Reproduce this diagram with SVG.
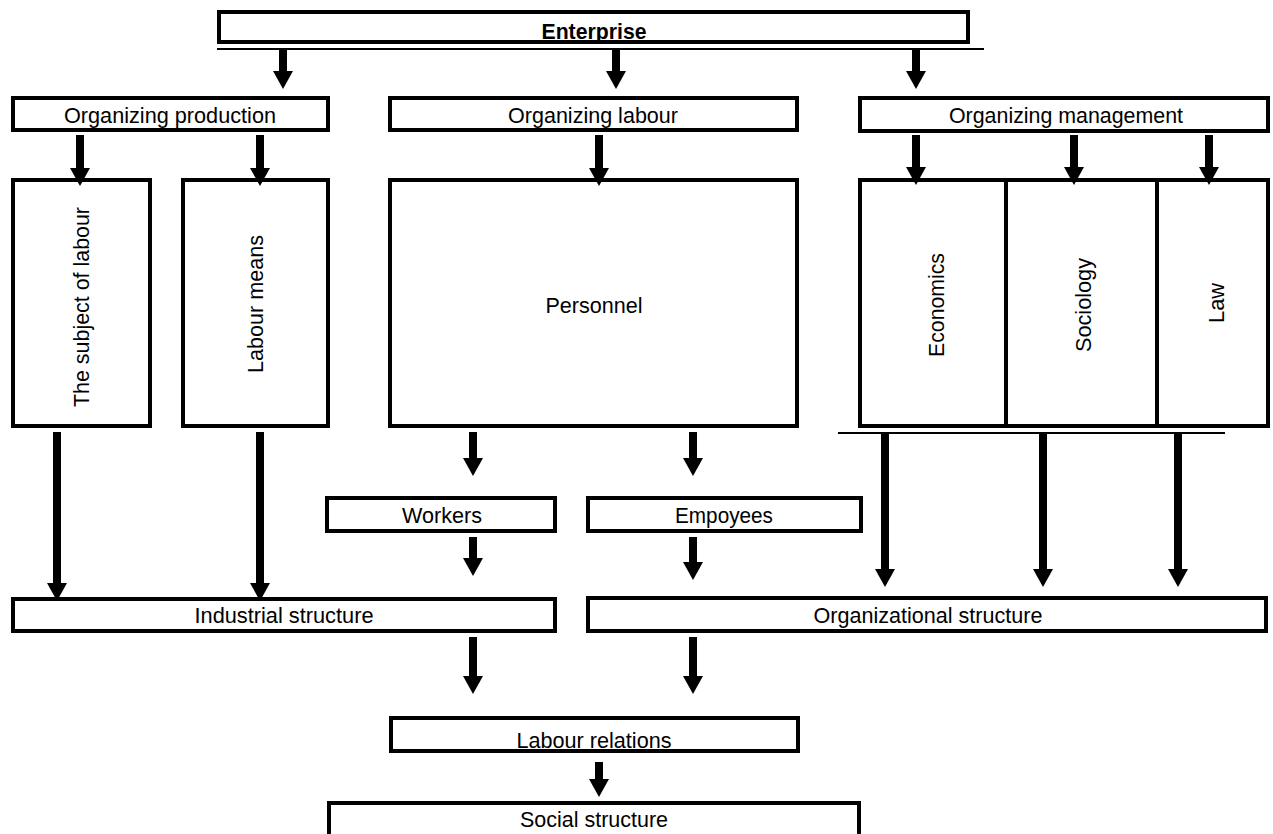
<svg xmlns="http://www.w3.org/2000/svg" width="1273" height="834" viewBox="0 0 1273 834">
<style>
.box{fill:#fff;stroke:#000;stroke-width:4}
.t{font-family:"Liberation Sans",Arial,sans-serif;font-size:22px;fill:#000;text-anchor:middle}
.b{font-weight:bold}
.ar{stroke:#000;stroke-width:8;fill:none;marker-end:url(#ah)}
.rule{stroke:#000;stroke-width:2}
</style>
<defs>
<marker id="ah" markerUnits="userSpaceOnUse" markerWidth="20" markerHeight="20" viewBox="0 0 18 20" refX="1" refY="10" orient="auto">
<path d="M0,0 L18,10 L0,20 z" fill="#000"/>
</marker>
</defs>
<rect width="1273" height="834" fill="#fff"/>

<g id="enterprise">
<rect class="box" x="219" y="12" width="749" height="30"/>
<line class="rule" x1="217" y1="49" x2="984" y2="49"/>
<text class="t b" x="594" y="39" textLength="105" lengthAdjust="spacingAndGlyphs">Enterprise</text>
</g>

<g id="org-production">
<rect class="box" x="13" y="98" width="315" height="32"/>
<text class="t" x="170" y="123" textLength="212" lengthAdjust="spacingAndGlyphs">Organizing production</text>
</g>
<g id="org-labour">
<rect class="box" x="390" y="98" width="407" height="32"/>
<text class="t" x="593" y="123" textLength="170" lengthAdjust="spacingAndGlyphs">Organizing labour</text>
</g>
<g id="org-management">
<rect class="box" x="860" y="98" width="408" height="33"/>
<text class="t" x="1066" y="123" textLength="234" lengthAdjust="spacingAndGlyphs">Organizing management</text>
</g>

<g id="subject-of-labour">
<rect class="box" x="13" y="180" width="137" height="246"/>
<text class="t" transform="translate(89,307) rotate(-90)" x="0" y="0" textLength="200" lengthAdjust="spacingAndGlyphs">The subject of labour</text>
</g>
<g id="labour-means">
<rect class="box" x="183" y="180" width="145" height="246"/>
<text class="t" transform="translate(263,304) rotate(-90)" x="0" y="0" textLength="138" lengthAdjust="spacingAndGlyphs">Labour means</text>
</g>
<g id="personnel">
<rect class="box" x="390" y="180" width="407" height="246"/>
<text class="t" x="594" y="313" textLength="97" lengthAdjust="spacingAndGlyphs">Personnel</text>
</g>

<g id="economics">
<rect class="box" x="860" y="180" width="146" height="246"/>
<text class="t" transform="translate(944,305) rotate(-90)" x="0" y="0" textLength="104" lengthAdjust="spacingAndGlyphs">Economics</text>
</g>
<g id="sociology">
<rect class="box" x="1006" y="180" width="151" height="246"/>
<text class="t" transform="translate(1091,305) rotate(-90)" x="0" y="0" textLength="94" lengthAdjust="spacingAndGlyphs">Sociology</text>
</g>
<g id="law">
<rect class="box" x="1157" y="180" width="111" height="246"/>
<text class="t" transform="translate(1224,303) rotate(-90)" x="0" y="0" textLength="40" lengthAdjust="spacingAndGlyphs">Law</text>
</g>
<line class="rule" x1="838" y1="433" x2="1225" y2="433"/>

<g id="workers">
<rect class="box" x="327" y="498" width="228" height="33"/>
<text class="t" x="442" y="523" textLength="80" lengthAdjust="spacingAndGlyphs">Workers</text>
</g>
<g id="empoyees">
<rect class="box" x="588" y="498" width="273" height="33"/>
<text class="t" x="724" y="523" textLength="98" lengthAdjust="spacingAndGlyphs">Empoyees</text>
</g>

<g id="industrial-structure">
<rect class="box" x="13" y="599" width="542" height="32"/>
<text class="t" x="284" y="623" textLength="179" lengthAdjust="spacingAndGlyphs">Industrial structure</text>
</g>
<g id="organizational-structure">
<rect class="box" x="588" y="598" width="678" height="33"/>
<text class="t" x="928" y="623" textLength="229" lengthAdjust="spacingAndGlyphs">Organizational structure</text>
</g>

<g id="labour-relations">
<rect class="box" x="391" y="718" width="407" height="33"/>
<text class="t" x="594" y="748" textLength="155" lengthAdjust="spacingAndGlyphs">Labour relations</text>
</g>
<g id="social-structure">
<rect class="box" x="329" y="803" width="530" height="40"/>
<text class="t" x="594" y="827" textLength="148" lengthAdjust="spacingAndGlyphs">Social structure</text>
</g>

<g id="connectors">
<line class="ar" x1="283" y1="50" x2="283" y2="72"/>
<line class="ar" x1="616" y1="50" x2="616" y2="72"/>
<line class="ar" x1="916" y1="50" x2="916" y2="72"/>
<line class="ar" x1="80" y1="135" x2="80" y2="169"/>
<line class="ar" x1="260" y1="135" x2="260" y2="169"/>
<line class="ar" x1="599" y1="135" x2="599" y2="169"/>
<line class="ar" x1="916" y1="135" x2="916" y2="168"/>
<line class="ar" x1="1074" y1="135" x2="1074" y2="168"/>
<line class="ar" x1="1209" y1="135" x2="1209" y2="168"/>
<line class="ar" x1="57" y1="432" x2="57" y2="584"/>
<line class="ar" x1="260" y1="432" x2="260" y2="584"/>
<line class="ar" x1="473" y1="432" x2="473" y2="459"/>
<line class="ar" x1="693" y1="432" x2="693" y2="459"/>
<line class="ar" x1="473" y1="537" x2="473" y2="559"/>
<line class="ar" x1="693" y1="537" x2="693" y2="563"/>
<line class="ar" x1="885" y1="434" x2="885" y2="570"/>
<line class="ar" x1="1043" y1="434" x2="1043" y2="570"/>
<line class="ar" x1="1178" y1="434" x2="1178" y2="570"/>
<line class="ar" x1="473" y1="637" x2="473" y2="677"/>
<line class="ar" x1="693" y1="637" x2="693" y2="677"/>
<line class="ar" x1="599" y1="762" x2="599" y2="780"/>
</g>
</svg>
